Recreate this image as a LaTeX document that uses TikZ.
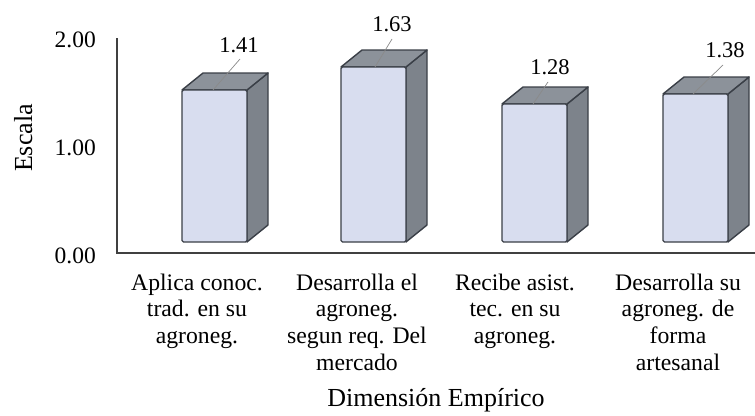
\documentclass[tikz,border=0pt]{standalone}
\usepackage{fontspec}
\setmainfont{Liberation Serif}
\definecolor{barface}{HTML}{D8DDEF}
\definecolor{bartop}{HTML}{8C929A}
\definecolor{barside}{HTML}{7D838B}
\definecolor{baredge}{HTML}{3A3F47}
\definecolor{axiscol}{HTML}{404040}
\definecolor{leadercol}{HTML}{8A8A8A}
\tikzset{
  face/.style={fill=barface, draw=baredge, line width=1.4pt, rounded corners=1.5pt, line join=round},
  topface/.style={fill=bartop, draw=baredge, line width=1.4pt, line join=round},
  sideface/.style={fill=barside, draw=baredge, line width=1.4pt, line join=round},
  axisline/.style={draw=axiscol, line width=1.5pt},
  leader/.style={draw=leadercol, line width=0.7pt},
  ticklbl/.style={font=\fontsize{23.5}{28}\selectfont, anchor=base east, inner sep=0pt},
  vallbl/.style={font=\fontsize{22.5}{26}\selectfont, anchor=base, inner sep=0pt},
  catlbl/.style={font=\fontsize{23.7}{26.7}\selectfont, align=center, anchor=north, inner sep=0pt},
  titlelbl/.style={font=\fontsize{26}{30}\selectfont, anchor=base, inner sep=0pt}
}
\begin{document}
\begin{tikzpicture}[x=1pt,y=-1pt]
\useasboundingbox (0,0) rectangle (755,415);
% bars: front-left x, top y
\foreach \bx/\by [count=\i] in {182/90, 341/67, 502/104, 663/94} {
  \path[sideface] (\bx+65,\by) -- (\bx+86,\by-17) -- (\bx+86,225) -- (\bx+65,242) -- cycle;
  \path[topface] (\bx,\by) -- (\bx+21,\by-17) -- (\bx+86,\by-17) -- (\bx+65,\by) -- cycle;
  \path[face] (\bx,\by) rectangle (\bx+65,242);
}
% axes
\coordinate (ytop) at (117,38);
\coordinate (origin) at (117,253);
\coordinate (xend) at (755,253);
\draw[axisline] (ytop) -- (origin) -- (xend);
% tick labels
\node[ticklbl] (t2) at (96,47) {2.00};
\node[ticklbl] (t1) at (96,155) {1.00};
\node[ticklbl] (t0) at (96,263) {0.00};
% value labels and leaders
\node[vallbl] (v1) at (239,52) {1.41};
\node[vallbl] (v2) at (392,31) {1.63};
\node[vallbl] (v3) at (550,74) {1.28};
\node[vallbl] (v4) at (725,57) {1.38};
\coordinate (p1) at (213,90);
\coordinate (p2) at (375,67);
\coordinate (p3) at (533,104);
\coordinate (p4) at (693,94);
\coordinate (q1) at (240,59);
\coordinate (q2) at (392,39);
\coordinate (q3) at (548,82);
\coordinate (q4) at (723,65);
\draw[leader] (q1) -- (p1);
\draw[leader] (q2) -- (p2);
\draw[leader] (q3) -- (p3);
\draw[leader] (q4) -- (p4);
% category labels
\node[catlbl] (c1) at (197,273.5) {Aplica conoc.\\trad. en su\\agroneg.};
\node[catlbl] (c2) at (357,273.5) {Desarrolla el\\agroneg.\\segun req. Del\\mercado};
\node[catlbl] (c3) at (515,273.5) {Recibe asist.\\tec. en su\\agroneg.};
\node[catlbl] (c4) at (678,273.5) {Desarrolla su\\agroneg. de\\forma\\artesanal};
% axis titles
\node[titlelbl] (xt) at (436,406) {Dimensión Empírico};
\node[titlelbl, rotate=90] (yt) at (32,138) {Escala};
\end{tikzpicture}
\end{document}
